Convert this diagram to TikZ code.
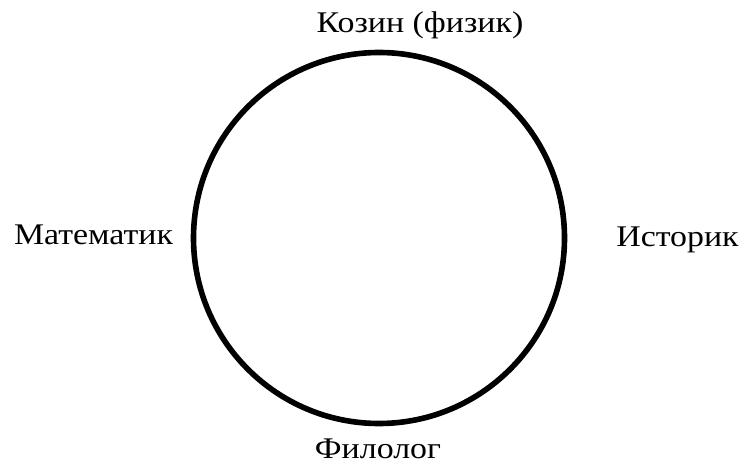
\documentclass[tikz,border=0pt]{standalone}
\usepackage{fontspec}
\setmainfont{Liberation Serif}[FakeStretch=1.13]
\begin{document}
\begin{tikzpicture}[x=1pt,y=1pt,
  lbl/.style={anchor=base,inner sep=0pt,font=\fontsize{30}{36}\selectfont}]
\useasboundingbox (0,0) rectangle (742,-465);
\node[draw,circle,line width=5.6pt,minimum size=371pt,inner sep=0pt] (c) at (379,-238) {};
\node[lbl] (top) at (420,-33) {Козин (физик)};
\node[lbl] (left) at (93.5,-245) {Математик};
\node[lbl] (right) at (677.5,-247) {Историк};
\node[lbl] (bottom) at (378,-458) {Филолог};
\end{tikzpicture}
\end{document}
